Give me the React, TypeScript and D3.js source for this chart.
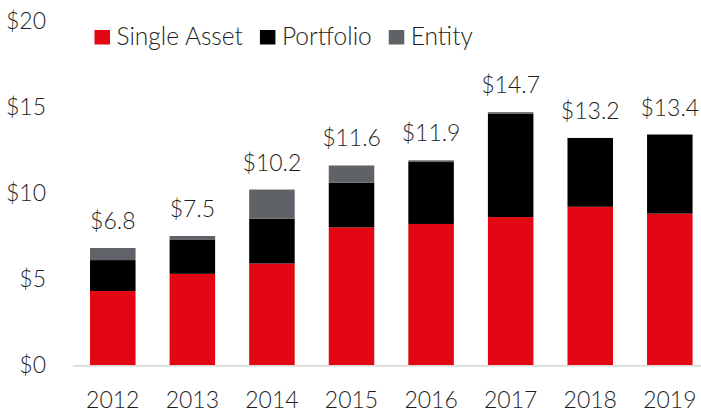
import React, { useEffect, useRef } from "react";
import * as d3 from "d3";

const years = ["2012", "2013", "2014", "2015", "2016", "2017", "2018", "2019"];
const singleAsset = [4.3, 5.3, 5.9, 8.0, 8.2, 8.6, 9.2, 8.8];
const portfolio = [1.8, 2.0, 2.6, 2.6, 3.6, 6.0, 4.0, 4.6];
const entity = [0.7, 0.2, 1.7, 1.0, 0.1, 0.1, 0.0, 0.0];
const totalLabels = ["$6.8", "$7.5", "$10.2", "$11.6", "$11.9", "$14.7", "$13.2", "$13.4"];
const seriesNames = ["Single Asset", "Portfolio", "Entity"];
const yTicks = [0, 5, 10, 15, 20];

const W = 701;
const H = 415;
const COLORS = ["#e30613", "#000000", "#5f6267"];
const FONT = "Lato, 'Open Sans', 'Noto Sans', sans-serif";
const FW = 300;

export default function App() {
  const ref = useRef<SVGSVGElement | null>(null);

  useEffect(() => {
    const svg = d3.select(ref.current);
    svg.selectAll("*").remove();

    const x = d3
      .scaleBand<string>()
      .domain(years)
      .range([73, 709.6])
      .paddingInner(0.428)
      .paddingOuter(0.214);
    const y = d3.scaleLinear().domain([0, 20]).range([365, 21]);

    const rows = years.map((yr, i) => ({
      year: yr,
      "Single Asset": singleAsset[i],
      Portfolio: portfolio[i],
      Entity: entity[i],
    }));
    const stack = d3.stack<any>().keys(seriesNames)(rows);

    // axis baseline
    svg
      .append("line")
      .attr("x1", 73)
      .attr("x2", W)
      .attr("y1", y(0) + 0.75)
      .attr("y2", y(0) + 0.75)
      .attr("stroke", "#d6d6d6")
      .attr("stroke-width", 1.5);

    // bars
    stack.forEach((layer, li) => {
      svg
        .append("g")
        .attr("fill", COLORS[li])
        .selectAll("rect")
        .data(layer.filter((d) => d[1] - d[0] > 0))
        .join("rect")
        .attr("x", (d) => x(d.data.year)!)
        .attr("width", x.bandwidth())
        .attr("y", (d) => y(d[1]))
        .attr("height", (d) => y(d[0]) - y(d[1]));
    });

    // totals
    svg
      .append("g")
      .selectAll("text")
      .data(years)
      .join("text")
      .attr("x", (d) => x(d)! + x.bandwidth() / 2)
      .attr("y", (d, i) => y(singleAsset[i] + portfolio[i] + entity[i]) - 19)
      .attr("text-anchor", "middle")
      .attr("font-family", FONT)
      .attr("font-weight", FW)
      .attr("font-size", 23)
      .attr("fill", "#1e1e1e")
      .text((d, i) => totalLabels[i]);

    // y ticks
    svg
      .append("g")
      .selectAll("text")
      .data(yTicks)
      .join("text")
      .attr("x", 46)
      .attr("y", (d) => y(d))
      .attr("dy", "0.36em")
      .attr("text-anchor", "end")
      .attr("font-family", FONT)
      .attr("font-weight", FW)
      .attr("font-size", 23)
      .attr("fill", "#1e1e1e")
      .text((d) => `$${d}`);

    // x ticks
    svg
      .append("g")
      .selectAll("text")
      .data(years)
      .join("text")
      .attr("x", (d) => x(d)! + x.bandwidth() / 2)
      .attr("y", 408)
      .attr("text-anchor", "middle")
      .attr("font-family", FONT)
      .attr("font-weight", FW)
      .attr("font-size", 23)
      .attr("fill", "#1e1e1e")
      .text((d) => d);

    // legend
    const legend = svg.append("g");
    let lx = 94.5;
    seriesNames.forEach((name, i) => {
      legend
        .append("rect")
        .attr("x", lx)
        .attr("y", 30)
        .attr("width", 15.5)
        .attr("height", 14.5)
        .attr("fill", COLORS[i]);
      const t = legend
        .append("text")
        .attr("x", lx + 22)
        .attr("y", 44.5)
        .attr("font-family", FONT)
        .attr("font-weight", FW)
        .attr("font-size", 24.5)
        .attr("fill", "#1e1e1e")
        .text(name);
      const w = (t.node() as SVGTextElement).getComputedTextLength();
      lx = lx + 22 + w + 17;
    });
  }, []);

  return (
    <svg
      ref={ref}
      width={W}
      height={H}
      style={{ position: "absolute", left: 0, top: 0, background: "#fff" }}
    />
  );
}
